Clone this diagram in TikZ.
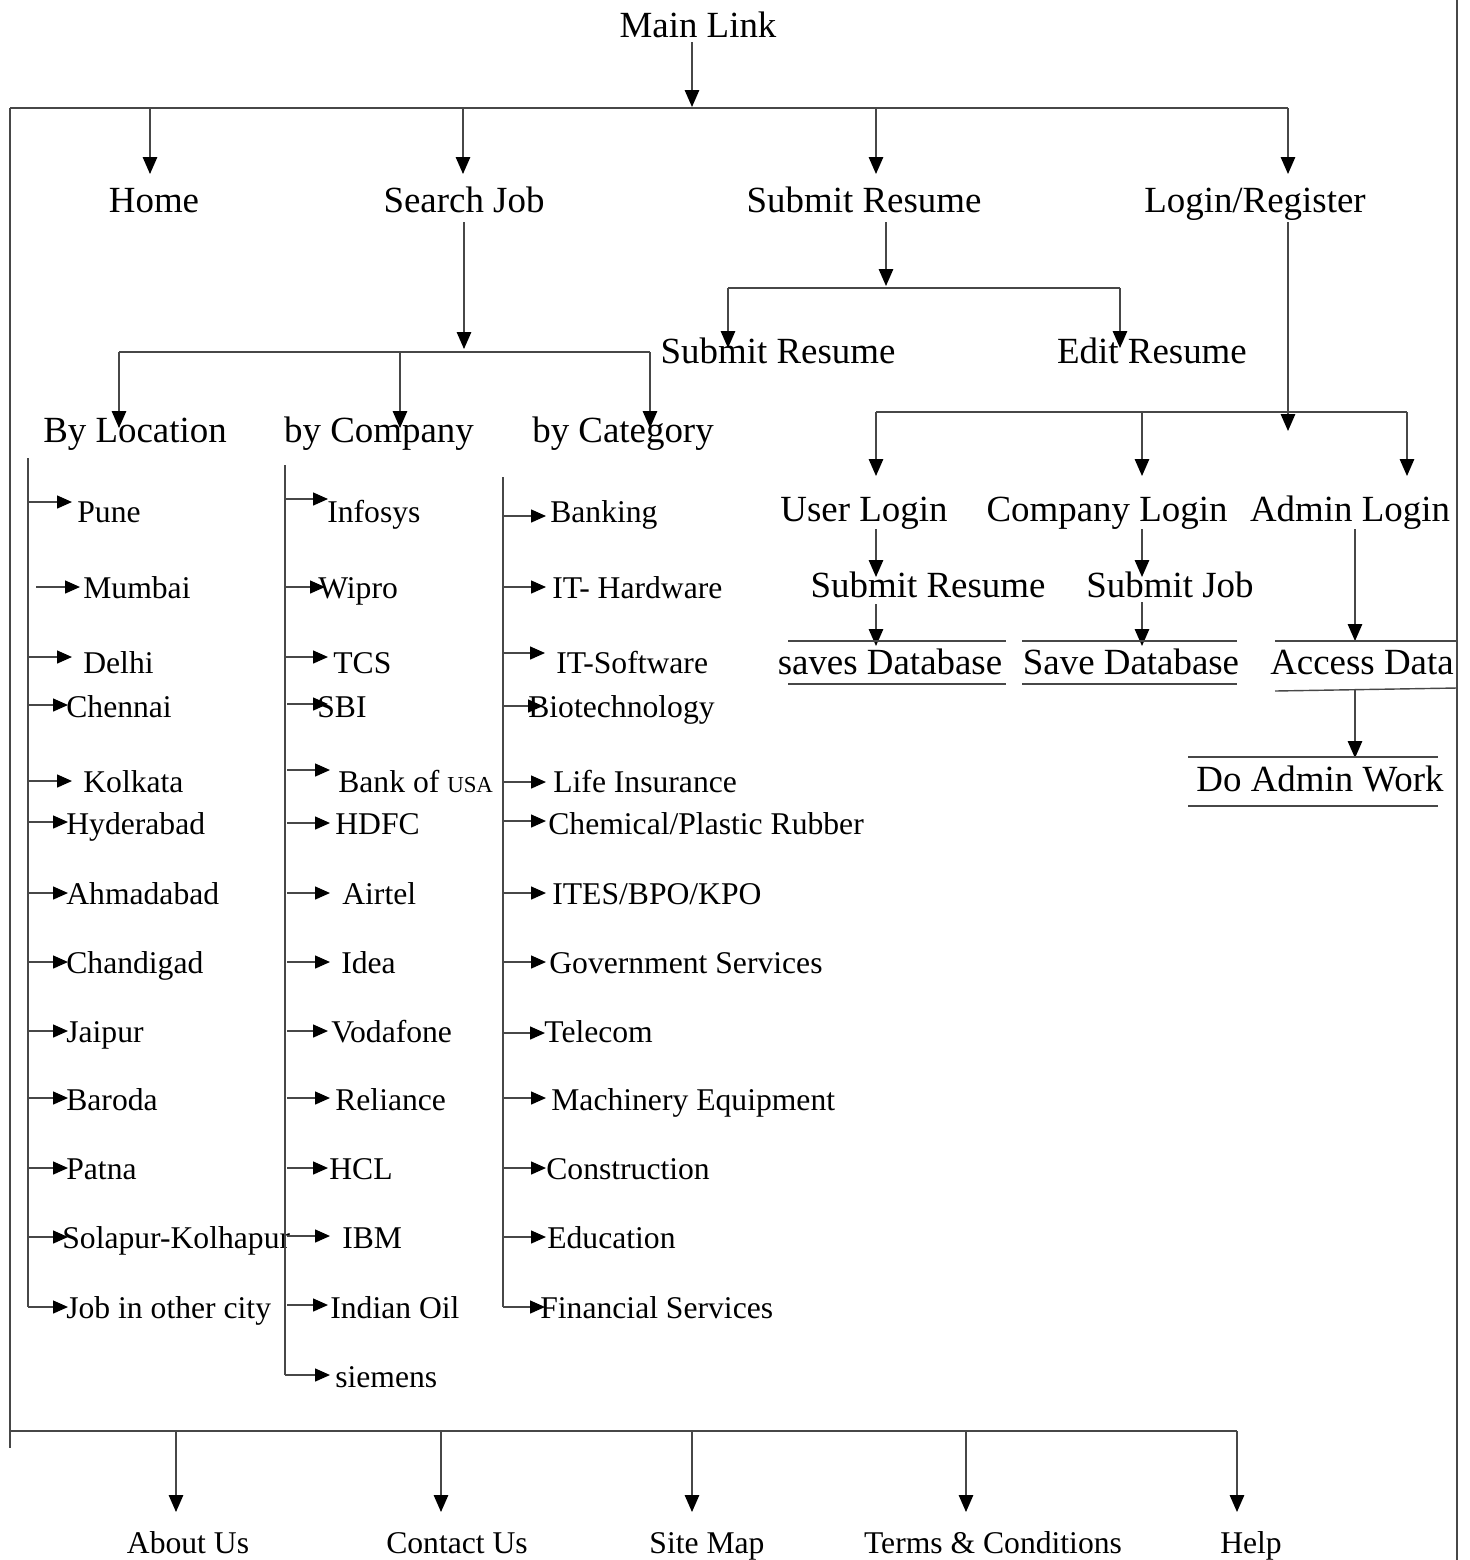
\documentclass[tikz,border=0pt]{standalone}
\usepackage{fontspec}
\setmainfont{Liberation Serif}
\usetikzlibrary{arrows.meta}
\begin{document}
\begin{tikzpicture}[x=0.2mm,y=-0.2mm,
  ln/.style={line width=0.8pt,draw=black!72},
  arr/.style={ln,-{Triangle[length=3.4mm,width=2.9mm,color=black]}},
  sarr/.style={ln,-{Triangle[length=3mm,width=2.6mm,color=black]}},
  big/.style={font=\fontsize{21}{25}\selectfont,inner sep=0pt,anchor=base},
  item/.style={font=\fontsize{18}{21}\selectfont,inner sep=0pt,anchor=base west},
  foot/.style={font=\fontsize{18}{21}\selectfont,inner sep=0pt,anchor=base}]
\path[use as bounding box] (0,0) rectangle (1470,1560);

% frame lines
\coordinate (topL) at (10,108);
\coordinate (topR) at (1288,108);
\coordinate (leftEnd) at (10,1448);
\coordinate (rtTop) at (1457,0);
\coordinate (rtBot) at (1457,1560);
\draw[ln] (rtTop) -- (rtBot);
\draw[ln] (topL) -- (topR);
\draw[ln] (topL) -- (leftEnd);

% main level
\node[big] (main) at (698,37) {Main Link};
\draw[arr] (692,42) -- (692,107);
\node[big] (home) at (154,212) {Home};
\node[big] (sj) at (464,212) {Search Job};
\node[big] (sr) at (864,212) {Submit Resume};
\node[big] (lr) at (1255,212) {Login/Register};
\foreach \x in {150,463,876,1288} \draw[arr] (\x,108) -- (\x,174);

% search job
\draw[arr] (464,222) -- (464,349);
\draw[ln] (119,352) -- (650,352);
\foreach \x in {119,400,650} \draw[arr] (\x,352) -- (\x,428);
\node[big] (byloc) at (135,442) {By Location};
\node[big] (bycomp) at (379,442) {by Company};
\node[big] (bycat) at (623,442) {by Category};

% submit resume
\draw[arr] (886,222) -- (886,286);
\draw[ln] (728,288) -- (1120,288);
\foreach \x in {728,1120} \draw[arr] (\x,288) -- (\x,348);
\node[big] (srsub) at (778,363) {Submit Resume};
\node[big] (edit) at (1152,363) {Edit Resume};

% login / register
\draw[arr] (1288,222) -- (1288,431);
\draw[ln] (876,412) -- (1407,412);
\foreach \x in {876,1142,1407} \draw[arr] (\x,412) -- (\x,476);
\node[big] (ul) at (864,521) {User Login};
\node[big] (cl) at (1107,521) {Company Login};
\node[big] (al) at (1350,521) {Admin Login};

\draw[arr] (876,529) -- (876,577);
\node[big] (ulsr) at (928,597) {Submit Resume};
\draw[arr] (876,604) -- (876,646);
\node[big] (udb) at (890,674) {saves Database};
\draw[ln] (788,641) -- (1006,641);
\draw[ln] (788,684) -- (1006,684);

\draw[arr] (1142,529) -- (1142,577);
\node[big] (clsj) at (1170,597) {Submit Job};
\draw[arr] (1142,602) -- (1142,646);
\node[big] (cdb) at (1131,674) {Save Database};
\draw[ln] (1022,641) -- (1237,641);
\draw[ln] (1022,684) -- (1237,684);

\draw[arr] (1355,529) -- (1355,641);
\node[big] (acc) at (1362,674) {Access Data};
\draw[ln] (1275,641) -- (1457,641);
\draw[ln] (1275,691) -- (1457,688);
\draw[arr] (1355,690) -- (1355,758);
\node[big] (daw) at (1320,791) {Do Admin Work};
\draw[ln] (1188,757) -- (1438,757);
\draw[ln] (1188,806) -- (1438,806);

% by location list
\draw[ln] (28,458) -- (28,1307);
\draw[sarr] (36,587) -- (80,587);
\node[item] (mum) at (83,598) {Mumbai};
\foreach \ay/\tip/\tx/\by/\t [count=\i] in {
  502/72/77/522/Pune, 657/72/83/673/Delhi, 705/68/66/717/Chennai,
  781/72/83/792/Kolkata, 822/68/66/834/Hyderabad, 893/68/66/904/Ahmadabad,
  962/68/66/973/Chandigad, 1031/68/66/1042/Jaipur, 1098/68/66/1110/Baroda,
  1168/68/66/1179/Patna, 1237/68/62/1248/Solapur-Kolhapur,
  1307/68/66/1318/Job in other city} {
  \draw[sarr] (28,\ay) -- (\tip,\ay);
  \node[item] (loc\i) at (\tx,\by) {\t};
}

% by company list
\draw[ln] (285,465) -- (285,1375);
\foreach \ay/\sx/\tip/\tx/\by/\t [count=\i] in {
  499/285/328/327/522/Infosys, 587/285/325/318/598/Wipro, 657/285/328/333/673/TCS,
  704/287/328/317/717/SBI, 823/287/330/335/834/HDFC,
  893/287/330/342/904/Airtel, 962/287/330/341/973/Idea, 1031/287/328/331/1042/Vodafone,
  1098/287/330/335/1110/Reliance, 1168/287/328/329/1179/HCL, 1236/287/330/342/1248/IBM,
  1305/287/328/330/1318/Indian Oil, 1375/285/330/335/1387/siemens} {
  \draw[sarr] (\sx,\ay) -- (\tip,\ay);
  \node[item] (comp\i) at (\tx,\by) {\t};
}
\draw[sarr] (287,770) -- (330,770);
\node[item] (bank) at (338,792) {Bank of {\fontsize{13}{15}\selectfont USA}};

% by category list
\draw[ln] (503,477) -- (503,1307);
\foreach \ay/\tip/\tx/\by/\t [count=\i] in {
  516/546/550/522/Banking, 587/546/552/598/IT- Hardware, 653/545/556/673/IT-Software,
  706/543/528/717/Biotechnology, 782/546/553/792/Life Insurance,
  962/546/549/973/Government Services, 1033/545/544/1042/Telecom,
  1098/546/551/1110/Machinery Equipment, 1168/546/546/1179/Construction,
  1237/546/547/1248/Education, 1307/545/540/1318/Financial Services} {
  \draw[sarr] (503,\ay) -- (\tip,\ay);
  \node[item] (cat\i) at (\tx,\by) {\t};
}
\draw[sarr] (503,821) -- (546,821);
\node[item] (chem) at (548,834) {Chemical/Plastic Rubber};
\draw[sarr] (503,893) -- (546,893);
\node[item] (ites) at (552,904) {ITES/BPO/KPO};

% bottom
\draw[ln] (10,1431) -- (1237,1431);
\foreach \x in {176,441,692,966,1237} \draw[arr] (\x,1431) -- (\x,1512);
\node[foot] (about) at (188,1553) {About Us};
\node[foot] (contact) at (457,1553) {Contact Us};
\node[foot] (sitemap) at (707,1553) {Site Map};
\node[foot] (terms) at (993,1553) {Terms \& Conditions};
\node[foot] (help) at (1251,1553) {Help};
\end{tikzpicture}
\end{document}
